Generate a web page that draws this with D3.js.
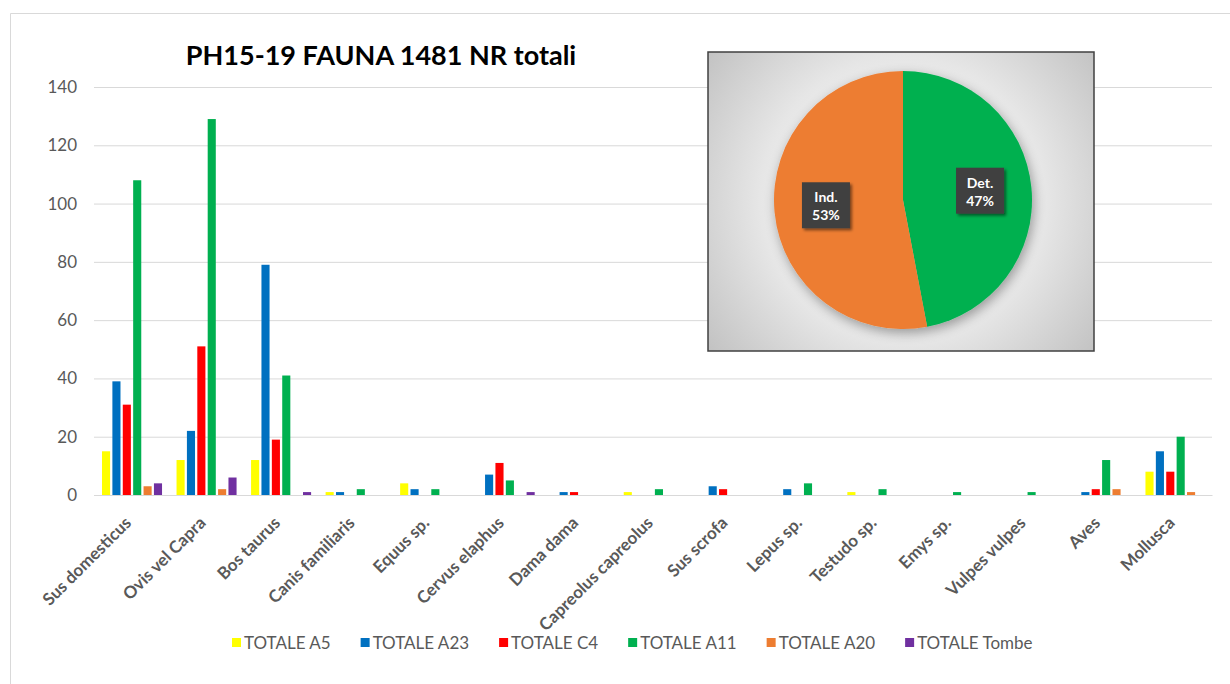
<!DOCTYPE html>
<html>
<head>
<meta charset="utf-8">
<script src="https://cdn.jsdelivr.net/npm/d3@7"></script>
<style>
  body { margin: 0; background: #fff; }
  text { font-family: Lato, "Open Sans", sans-serif; }
</style>
</head>
<body>
<div id="chart"></div>
<script>
// taxa on the x axis
const categories = ['Sus domesticus', 'Ovis vel Capra', 'Bos taurus', 'Canis familiaris', 'Equus sp.',
  'Cervus elaphus', 'Dama dama', 'Capreolus capreolus', 'Sus scrofa', 'Lepus sp.',
  'Testudo sp.', 'Emys sp.', 'Vulpes vulpes', 'Aves', 'Mollusca'];

const seriesNames = ['TOTALE A5', 'TOTALE A23', 'TOTALE C4', 'TOTALE A11', 'TOTALE A20', 'TOTALE Tombe'];
const seriesColors = ['#ffff00', '#0070c0', '#ff0000', '#00b050', '#ed7d31', '#7030a0'];

// NR per taxon, one array per series
const totaleA5    = [15, 12, 12, 1, 4, 0, 0, 1, 0, 0, 1, 0, 0, 0, 8];
const totaleA23   = [39, 22, 79, 1, 2, 7, 1, 0, 3, 2, 0, 0, 0, 1, 15];
const totaleC4    = [31, 51, 19, 0, 0, 11, 1, 0, 2, 0, 0, 0, 0, 2, 8];
const totaleA11   = [108, 129, 41, 2, 2, 5, 0, 2, 0, 4, 2, 1, 1, 12, 20];
const totaleA20   = [3, 2, 0, 0, 0, 0, 0, 0, 0, 0, 0, 0, 0, 2, 1];
const totaleTombe = [4, 6, 1, 0, 0, 1, 0, 0, 0, 0, 0, 0, 0, 0, 0];

const yTicks = [0, 20, 40, 60, 80, 100, 120, 140];

// inset pie: determined vs undetermined
const pieLabels = ['Det.', 'Ind.'];
const pieValues = [47, 53];
const pieColors = ['#00b050', '#ed7d31'];

const W = 1230, H = 684;
const mLeft = 94, mRight = 1212, mTop = 87, mBottom = 495;

const svg = d3.select('#chart').append('svg')
  .attr('width', W).attr('height', H);

const defs = svg.append('defs');

// chart area frame (only top and left are visible in the picture)
svg.append('path')
  .attr('d', 'M10.5,' + H + 'V13.5H' + W)
  .attr('fill', 'none')
  .attr('stroke', '#d9d9d9');

svg.append('text')
  .attr('x', 381).attr('y', 65)
  .attr('text-anchor', 'middle')
  .attr('font-size', 27).attr('font-weight', 'bold')
  .attr('fill', '#000')
  .text('PH15-19 FAUNA 1481 NR totali');

const x0 = d3.scaleBand().domain(categories).range([mLeft, mRight]);
const x1 = d3.scaleBand().domain(seriesNames)
  .range([8, x0.bandwidth() - 6.5]).paddingInner(0.22);
const y = d3.scaleLinear().domain([0, 140]).range([mBottom, mTop]);

const yAxis = svg.append('g')
  .attr('transform', 'translate(' + mLeft + ',0)')
  .call(d3.axisLeft(y).tickValues(yTicks).tickSize(-(mRight - mLeft)).tickPadding(17));
yAxis.select('.domain').remove();
yAxis.selectAll('line').attr('stroke', '#d9d9d9');
yAxis.selectAll('text')
  .attr('fill', '#595959').attr('font-size', 17)
  .style('font-family', 'Lato, sans-serif');

const seriesData = [totaleA5, totaleA23, totaleC4, totaleA11, totaleA20, totaleTombe];

const groups = svg.append('g').selectAll('g')
  .data(categories)
  .enter().append('g')
  .attr('transform', function(d) { return 'translate(' + x0(d) + ',0)'; });

groups.selectAll('rect')
  .data(function(d, i) {
    return seriesNames.map(function(s, j) { return { key: s, value: seriesData[j][i], color: seriesColors[j] }; });
  })
  .enter().append('rect')
  .attr('x', function(d) { return x1(d.key); })
  .attr('y', function(d) { return y(d.value); })
  .attr('width', x1.bandwidth())
  .attr('height', function(d) { return mBottom - y(d.value); })
  .attr('fill', function(d) { return d.color; });

// x axis line + rotated labels
const xAxis = svg.append('g')
  .attr('transform', 'translate(0,' + mBottom + ')')
  .call(d3.axisBottom(x0).tickSize(0).tickPadding(0));
xAxis.select('.domain').attr('stroke', '#d9d9d9');
xAxis.selectAll('text')
  .attr('text-anchor', 'end')
  .attr('font-size', 17).attr('font-weight', 'bold')
  .attr('fill', '#595959')
  .style('font-family', 'Lato, sans-serif')
  .attr('dy', null)
  .attr('transform', 'translate(1,29) rotate(-45)');

// legend
const legend = svg.append('g').attr('transform', 'translate(0,643)');
let lx = 232;
seriesNames.forEach(function(s, j) {
  legend.append('rect')
    .attr('x', lx).attr('y', -5)
    .attr('width', 9).attr('height', 9)
    .attr('fill', seriesColors[j]);
  const t = legend.append('text')
    .attr('x', lx + 12).attr('y', 6)
    .attr('font-size', 17).attr('fill', '#595959')
    .text(s);
  lx += 12 + t.node().getComputedTextLength() + 30;
});

// inset pie
const box = { x: 708, y: 52, w: 386, h: 299 };
const cx = 903, cy = 200, r = 129;

const grad = defs.append('radialGradient')
  .attr('id', 'bg').attr('gradientUnits', 'userSpaceOnUse')
  .attr('cx', cx).attr('cy', cy).attr('r', 260);
grad.append('stop').attr('offset', '0').attr('stop-color', '#ffffff');
grad.append('stop').attr('offset', '0.55').attr('stop-color', '#e6e6e6');
grad.append('stop').attr('offset', '1').attr('stop-color', '#bdbdbd');

const shadow = defs.append('filter').attr('id', 'shadow')
  .attr('x', '-30%').attr('y', '-30%').attr('width', '160%').attr('height', '160%');
shadow.append('feGaussianBlur').attr('in', 'SourceAlpha').attr('stdDeviation', 6);
shadow.append('feOffset').attr('dx', 2).attr('dy', 4).attr('result', 'b');
shadow.append('feComponentTransfer').append('feFuncA').attr('type', 'linear').attr('slope', 0.35);
const merge = shadow.append('feMerge');
merge.append('feMergeNode');
merge.append('feMergeNode').attr('in', 'SourceGraphic');

const lblShadow = defs.append('filter').attr('id', 'lblshadow')
  .attr('x', '-30%').attr('y', '-30%').attr('width', '160%').attr('height', '160%');
lblShadow.append('feGaussianBlur').attr('in', 'SourceAlpha').attr('stdDeviation', 1.5);
lblShadow.append('feOffset').attr('dx', 2).attr('dy', 2);
lblShadow.append('feComponentTransfer').append('feFuncA').attr('type', 'linear').attr('slope', 0.5);
const merge2 = lblShadow.append('feMerge');
merge2.append('feMergeNode');
merge2.append('feMergeNode').attr('in', 'SourceGraphic');

svg.append('rect')
  .attr('x', box.x).attr('y', box.y)
  .attr('width', box.w).attr('height', box.h)
  .attr('fill', 'url(#bg)')
  .attr('stroke', '#404040').attr('stroke-width', 1.5);

const pie = d3.pie().sort(null)(pieValues);
const arc = d3.arc().innerRadius(0).outerRadius(r);
const labelArc = d3.arc().innerRadius(r * 0.6).outerRadius(r * 0.6);

const pg = svg.append('g').attr('transform', 'translate(' + cx + ',' + cy + ')');
pg.append('g').attr('filter', 'url(#shadow)')
  .selectAll('path')
  .data(pie)
  .enter().append('path')
  .attr('d', arc)
  .attr('fill', function(d, i) { return pieColors[i]; });

const lbl = pg.selectAll('.lbl')
  .data(pie)
  .enter().append('g')
  .attr('class', 'lbl')
  .attr('transform', function(d) {
    const c = labelArc.centroid(d);
    return 'translate(' + c[0] + ',' + (c[1] - 2) + ')';
  });
lbl.append('rect')
  .attr('x', -24).attr('y', -23)
  .attr('width', 48).attr('height', 46)
  .attr('fill', '#404040')
  .attr('filter', 'url(#lblshadow)');
lbl.append('text')
  .attr('text-anchor', 'middle').attr('y', -3)
  .attr('font-size', 14).attr('font-weight', 'bold').attr('fill', '#fff')
  .text(function(d, i) { return pieLabels[i]; });
lbl.append('text')
  .attr('text-anchor', 'middle').attr('y', 15)
  .attr('font-size', 14).attr('font-weight', 'bold').attr('fill', '#fff')
  .text(function(d) { return d.value + '%'; });
</script>
</body>
</html>
